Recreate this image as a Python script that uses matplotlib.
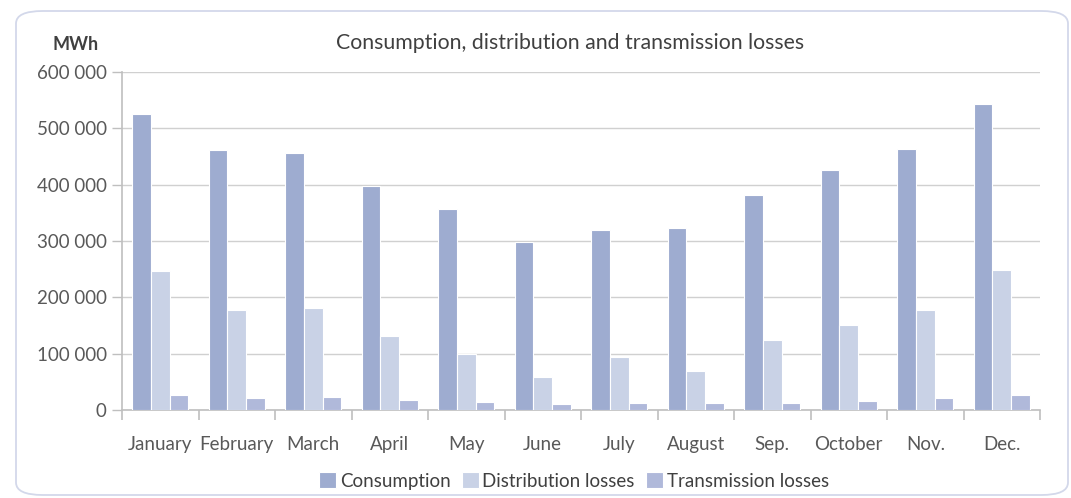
import matplotlib
matplotlib.use("Agg")
import matplotlib.pyplot as plt
import numpy as np
from matplotlib.patches import FancyBboxPatch

months = ["January", "February", "March", "April", "May", "June",
          "July", "August", "Sep.", "October", "Nov.", "Dec."]
consumption = [525000, 461000, 456000, 398000, 357000, 298000,
               320000, 323000, 382000, 426000, 463000, 543000]
distribution = [247000, 178000, 181000, 131000, 99000, 59000,
                94000, 69000, 124000, 151000, 178000, 249000]
transmission = [27000, 21000, 23000, 18000, 14000, 11000,
                12000, 12000, 12000, 16000, 21000, 27000]
series_names = ["Consumption", "Distribution losses", "Transmission losses"]
colors = ["#9EACD0", "#C9D2E6", "#B0B9DA"]
yticks = [0, 100000, 200000, 300000, 400000, 500000, 600000]
ytick_labels = ["0", "100 000", "200 000", "300 000", "400 000", "500 000", "600 000"]

plt.rcParams['font.family'] = ['Lato', 'DejaVu Sans']

W, H = 1071, 498
fig = plt.figure(figsize=(W / 100, H / 100), dpi=100)

# rounded frame
frame = FancyBboxPatch((16 / W, 3 / H), (1052 / W), (484 / H),
                       boxstyle="round,pad=0,rounding_size=0.025",
                       transform=fig.transFigure, facecolor="none",
                       edgecolor="#D3D8EA", linewidth=1.3, zorder=-1)
fig.patches.append(frame)

ax = fig.add_axes([122 / W, 1 - 410 / H, (1040 - 122) / W, (410 - 72) / H])
ax.set_facecolor("none")

x = np.arange(len(months))
bw = 0.245
for i, (vals, c, name) in enumerate(zip([consumption, distribution, transmission], colors, series_names)):
    ax.bar(x + (i - 1) * bw, vals, width=bw, color=c, edgecolor="white",
           linewidth=0.8, label=name, zorder=3)

ax.set_xlim(-0.5, len(months) - 0.5)
ax.set_ylim(0, 600000)
ax.set_yticks(yticks)
ax.set_yticklabels(ytick_labels, fontsize=13.5, color="#595959")
ax.yaxis.grid(True, color="#D0D0D0", linewidth=1.0, zorder=0)
ax.set_axisbelow(True)

ax.set_xticks(x)
ax.set_xticklabels(months, fontsize=13.5, color="#595959")
ax.tick_params(axis="x", length=0, pad=19)
ax.set_xticks(np.arange(-0.5, len(months) + 0.5, 1), minor=True)
ax.tick_params(axis="x", which="minor", length=7, color="#BFBFBF", width=1.2)
ax.tick_params(axis="y", length=7, color="#BFBFBF", width=1.0, pad=4)

for s in ["top", "right"]:
    ax.spines[s].set_visible(False)
ax.spines["left"].set_color("#BFBFBF")
ax.spines["bottom"].set_color("#BFBFBF")
ax.spines["left"].set_linewidth(1.2)
ax.spines["bottom"].set_linewidth(1.2)

fig.text(570 / W, 1 - 43 / H, "Consumption, distribution and transmission losses",
         ha="center", va="center", fontsize=15.3, color="#404040")
fig.text(52 / W, 1 - 44 / H, "MWh", ha="left", va="center", fontsize=13,
         fontweight="bold", color="#404040")

leg = fig.legend(loc="center", bbox_to_anchor=(574 / W, 1 - 481 / H), ncol=3,
                 frameon=False, fontsize=13.5, handlelength=0.9, handleheight=0.9,
                 handletextpad=0.2, columnspacing=0.6)
for t in leg.get_texts():
    t.set_color("#404040")

fig.savefig("out.png", dpi=100)
